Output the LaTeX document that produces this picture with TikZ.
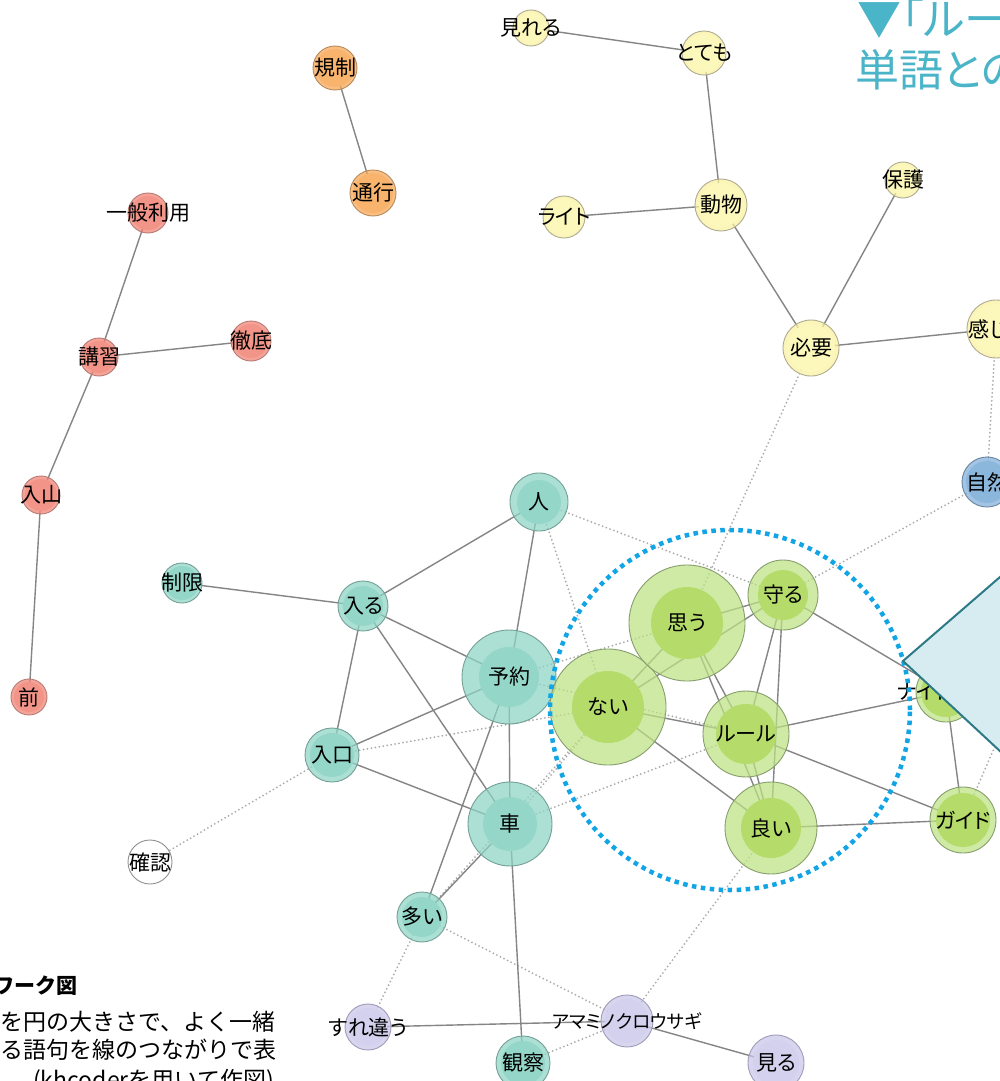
\documentclass[tikz,border=0pt]{standalone}
\usepackage{fontspec}
\setmainfont{Noto Sans CJK JP}[RawFeature=+palt]
\newfontfamily\capfont{Noto Sans CJK JP}
\usetikzlibrary{backgrounds}

\definecolor{yelout}{HTML}{FAF29E}\definecolor{yelin}{HTML}{FCF7BA}\definecolor{yelline}{HTML}{AFAB90}
\definecolor{orgout}{HTML}{F6A555}\definecolor{orgin}{HTML}{F8B46C}\definecolor{orgline}{HTML}{B98A58}
\definecolor{redout}{HTML}{F08072}\definecolor{redin}{HTML}{F39488}\definecolor{redline}{HTML}{B97C74}
\definecolor{tealout}{HTML}{8DD5C6}\definecolor{tealin}{HTML}{94D7C9}\definecolor{tealline}{HTML}{74A096}
\definecolor{grnout}{HTML}{BDE282}\definecolor{grnin}{HTML}{B5DC6A}\definecolor{grnline}{HTML}{879E6E}
\definecolor{lavout}{HTML}{C9C5E8}\definecolor{lavin}{HTML}{D4D1EE}\definecolor{lavline}{HTML}{9F9BBA}
\definecolor{bluout}{HTML}{80AEDA}\definecolor{bluin}{HTML}{8CB7DC}\definecolor{bluline}{HTML}{6A859F}
\definecolor{whtout}{HTML}{FFFFFF}\definecolor{whtin}{HTML}{FFFFFF}\definecolor{whtline}{HTML}{909090}
\definecolor{linkgray}{HTML}{858585}
\definecolor{dotgray}{HTML}{ABABAB}
\definecolor{focusblue}{HTML}{12A5E6}
\definecolor{headteal}{HTML}{4AB4C8}
\definecolor{calloutfill}{HTML}{D6ECF0}
\definecolor{calloutline}{HTML}{2C7A86}

\tikzset{
  vtx/.style={circle, inner sep=0pt, line width=0.9pt, draw=#1line, fill=#1out, fill opacity=0.72},
  lbl/.style={font=\fontsize{21}{21}\selectfont, inner sep=0pt, text=black, fill opacity=1, text opacity=1},
  solidlink/.style={draw=linkgray, line width=1.4pt},
  dotlink/.style={draw=dotgray, line width=2pt, dash pattern=on 0pt off 4pt, line cap=round},
  heading/.style={font=\fontsize{44}{44}\selectfont, text=headteal, inner sep=0pt},
  captitle/.style={font=\capfont\bfseries\fontsize{21}{21}\selectfont, inner sep=0pt},
  captext/.style={font=\capfont\fontsize{23}{23}\selectfont, inner sep=0pt},
}

\newcommand\netnode[7]{\node[vtx=#5, minimum size=#3, path picture={\fill[#5in, fill opacity=1] (path picture bounding box.center) circle (#4);}, label={[lbl,#7]center:#6}] (#1) at #2 {};}

\begin{document}
\begin{tikzpicture}[x=1pt, y=-1pt]
\useasboundingbox (0,0) rectangle (999,1081);

% yellow cluster
\netnode{miru}{(531,28)}{36pt}{15pt}{yel}{見れる}{}
\netnode{totemo}{(704,53)}{44pt}{19pt}{yel}{とても}{}
\netnode{doubutsu}{(721,205)}{52pt}{22pt}{yel}{動物}{}
\netnode{raito}{(564,217)}{42pt}{18pt}{yel}{ライト}{}
\netnode{hogo}{(903,180)}{36pt}{15pt}{yel}{保護}{}
\netnode{hitsuyou}{(811,348)}{56pt}{24pt}{yel}{必要}{}
\netnode{kanji}{(996,329)}{58pt}{25pt}{yel}{感じ}{xshift=-8pt}
\netnode{shizen}{(987,482)}{50pt}{21pt}{blu}{自然}{}
% orange
\netnode{kisei}{(335,68)}{44pt}{19pt}{org}{規制}{}
\netnode{tsukou}{(373,193)}{46pt}{20pt}{org}{通行}{}
% red
\netnode{ippan}{(148,213)}{40pt}{17pt}{red}{一般利用}{}
\netnode{koushu}{(99,357)}{38pt}{16pt}{red}{講習}{}
\netnode{tettei}{(251,341)}{40pt}{17pt}{red}{徹底}{}
\netnode{nyuuzan}{(41,495)}{38pt}{16pt}{red}{入山}{}
\netnode{mae}{(29,697)}{36pt}{15pt}{red}{前}{}
% teal
\netnode{seigen}{(182,583)}{40pt}{17pt}{teal}{制限}{}
\netnode{hito}{(539,502)}{58pt}{22pt}{teal}{人}{}
\netnode{hairu}{(363,606)}{50pt}{20pt}{teal}{入る}{}
\netnode{yoyaku}{(509,677)}{94pt}{30pt}{teal}{予約}{}
\netnode{iriguchi}{(332,755)}{54pt}{22pt}{teal}{入口}{}
\netnode{kuruma}{(510,824)}{84pt}{27pt}{teal}{車}{}
\netnode{kakunin}{(150,862)}{44pt}{19pt}{wht}{確認}{}
\netnode{ooi}{(422,917)}{50pt}{20pt}{teal}{多い}{}
\netnode{kansatsu}{(523,1063)}{54pt}{22pt}{teal}{観察}{}
% lavender
\netnode{surechigau}{(368,1027)}{46pt}{19pt}{lav}{すれ違う}{}
\netnode{amami}{(627,1021)}{52pt}{22pt}{lav}{アマミノクロウサギ}{font=\fontsize{18.5}{18.5}\selectfont}
\netnode{miru2}{(776,1063)}{56pt}{23pt}{lav}{見る}{}
% green
\netnode{nai}{(608,707)}{116pt}{36pt}{grn}{ない}{}
\netnode{omou}{(687,623)}{116pt}{36pt}{grn}{思う}{}
\netnode{mamoru}{(783,595)}{70pt}{25pt}{grn}{守る}{}
\netnode{rule}{(746,734)}{86pt}{30pt}{grn}{ルール}{}
\netnode{yoi}{(771,828)}{92pt}{30pt}{grn}{良い}{}
\netnode{night}{(946,692)}{60pt}{25pt}{grn}{ナイト}{xshift=-22pt}
\netnode{guide}{(963,820)}{66pt}{27pt}{grn}{ガイド}{}

\coordinate (offR) at (1015,700);

\begin{scope}[on background layer]
  \fill[white] (0,0) rectangle (999,1081);
  % weak (dotted) links
  \foreach \a/\b in {hitsuyou/omou, kanji/shizen, shizen/mamoru, hito/mamoru, hito/nai,
      iriguchi/nai, iriguchi/kakunin, kuruma/nai, kuruma/rule, yoyaku/rule, yoyaku/omou,
      ooi/nai, ooi/amami, ooi/surechigau, kansatsu/amami, amami/yoi, guide/offR}
    \draw[dotlink] (\a.center) -- (\b.center);
  % strong links
  \foreach \a/\b in {miru/totemo, totemo/doubutsu, doubutsu/raito, doubutsu/hitsuyou,
      hitsuyou/hogo, hitsuyou/kanji, kisei/tsukou, ippan/koushu, koushu/tettei,
      koushu/nyuuzan, nyuuzan/mae, seigen/hairu, hairu/hito, hairu/yoyaku, hairu/iriguchi,
      hairu/kuruma, hito/yoyaku, yoyaku/iriguchi, yoyaku/kuruma, yoyaku/ooi,
      iriguchi/kuruma, kuruma/ooi, kuruma/kansatsu, surechigau/amami, amami/miru2,
      nai/omou, nai/mamoru, omou/mamoru, omou/rule, omou/yoi, nai/rule, nai/yoi,
      mamoru/rule, mamoru/yoi, rule/yoi, rule/night, rule/guide, mamoru/night,
      yoi/guide, night/guide}
    \draw[solidlink] (\a.center) -- (\b.center);
\end{scope}

% focus circle
\node[circle, minimum size=360pt, inner sep=0pt, draw=focusblue, line width=4.5pt,
      dash pattern=on 4.5pt off 4.5pt] (focus) at (730,710) {};

% callout
\coordinate (apex) at (903,661);
\coordinate (ctop) at (1030,551);
\coordinate (cbot) at (1030,779);
\draw[fill=calloutfill, draw=calloutline, line width=2pt, line join=miter] (apex) -- (ctop) -- (cbot) -- cycle;

% heading
\node[heading, anchor=west] (head1) at (857,19) {▼「ルール」};
\node[heading, anchor=west] (head2) at (855,70) {単語との};

% caption
\node[captitle, anchor=east] (cap0) at (78,986) {ネットワーク図};
\node[captext, anchor=west] (cap1) at (0,1022) {を円の大きさで、よく一緒};
\node[captext, anchor=west] (cap2) at (0,1050) {る語句を線のつながりで表};
\node[captext, anchor=west] (cap3) at (33,1081) {(khcoderを用いて作図)};
\end{tikzpicture}
\end{document}
